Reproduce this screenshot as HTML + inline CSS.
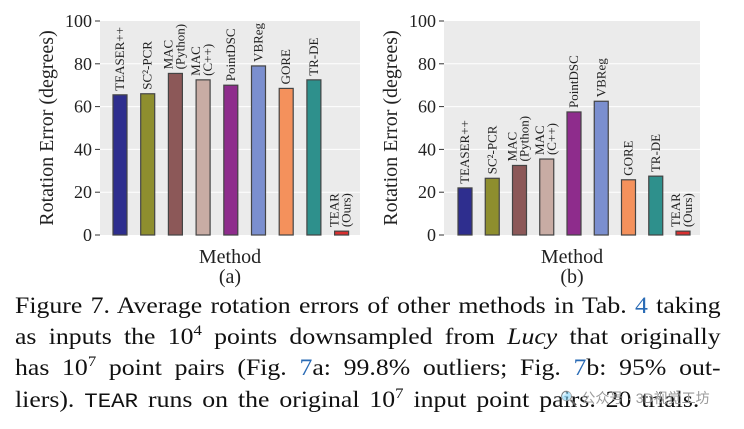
<!DOCTYPE html>
<html><head><meta charset="utf-8"><style>
body{margin:0;width:744px;height:429px;background:#fff;overflow:hidden;position:relative;font-family:"Liberation Serif","Times New Roman",serif}
svg{position:absolute;left:0;top:0;font-family:"Liberation Serif","Times New Roman",serif}
svg text{font-family:"Liberation Serif","Times New Roman",serif}
.cap{position:absolute;left:15px;width:630px;font-size:23px;color:#111;font-family:"Liberation Serif",serif;text-align:justify;text-align-last:justify;white-space:normal;transform:scaleX(1.12);transform-origin:0 0}
.blue{color:#2a6bb5}
sup{font-size:15px;vertical-align:9px;line-height:0}
.mono{font-family:"Liberation Mono",monospace;font-size:20px}
.wm{position:absolute;left:560px;top:388px;font-family:"Liberation Sans","Noto Sans CJK SC",sans-serif;font-size:14px;color:#9a9a9a}
</style></head><body>
<svg id="chart" width="744" height="290"></svg>
<div class="cap" style="top:293px">Figure 7. Average rotation errors of other methods in Tab. <span class="blue">4</span> taking</div>
<div class="cap" style="top:324px">as inputs the 10<sup>4</sup> points downsampled from <i>Lucy</i> that originally</div>
<div class="cap" style="top:355px">has 10<sup>7</sup> point pairs (Fig. <span class="blue">7</span>a: 99.8% outliers; Fig. <span class="blue">7</span>b: 95% out-</div>
<div class="cap" style="top:387px;width:611px">liers). <span class="mono">TEAR</span> runs on the original 10<sup>7</sup> input point pairs. 20 trials.</div>
<div class="wm">🔍 公众号 · 3D视觉工坊</div>
<script>
const categories=["TEASER++","SC²-PCR","MAC|(Python)","MAC|(C++)","PointDSC","VBReg","GORE","TR-DE","TEAR|(Ours)"];
const valuesA=[65.5,66,75.5,72.5,70,79,68.5,72.5,1.8];
const valuesB=[22,26.5,32.5,35.5,57.5,62.5,25.8,27.5,1.8];
const yTicks=[0,20,40,60,80,100];
const colors=["#2e2e8e","#8e8e2e","#8c5858","#c8aca4","#8e2c8c","#7b8fcf","#f4915c","#2e908c","#d83030"];
const NS="http://www.w3.org/2000/svg";
const svg=document.getElementById('chart');
function mk(t,a,p){const e=document.createElementNS(NS,t);for(const k in a)e.setAttribute(k,a[k]);(p||svg).appendChild(e);return e;}
function panel(vals,L,R,c0,step,label,name){
  const top=21,bot=235;
  const y=v=>bot-(v/100)*(bot-top);
  const x=i=>c0+i*step;
  const g=mk('g',{});
  
  
  const bg=mk('rect',{x:L,y:top,width:R-L,height:bot-top,fill:'#ebebeb'},g);
  
  
  yTicks.forEach(t=>{
    if(t>0&&t<100){mk('line',{x1:L,x2:R,y1:y(t),y2:y(t),stroke:'#fff','stroke-width':1},g);}
    mk('line',{x1:L-5,x2:L,y1:y(t),y2:y(t),stroke:'#333','stroke-width':1},g);
    const tx=mk('text',{x:L-8,y:y(t)+6,'text-anchor':'end','font-size':18,fill:'#222'},g);
    tx.textContent=t;
    
    
  });
  vals.forEach((v,i)=>{
    const b=mk('rect',{x:x(i)-7,y:y(v),width:14,height:bot-y(v),fill:colors[i],stroke:'#444','stroke-width':1.2},g);
    
    
    const lines=categories[i].split('|');
    lines.forEach((ln,k)=>{
      const lx=x(i)+ (lines.length===2?(k===0?-3:9):4);
      const t=mk('text',{transform:`translate(${lx},${y(v)-4}) rotate(-90)`,'font-size':13,fill:'#222'},g);
      t.textContent=ln;
      
      
    });
  });
  const yl=mk('text',{transform:`translate(${L-47},${(top+bot)/2}) rotate(-90)`,'text-anchor':'middle','font-size':20,fill:'#222'},g);
  yl.textContent='Rotation Error (degrees)';
  
  
  const xl=mk('text',{x:(L+R)/2,y:263,'text-anchor':'middle','font-size':20,fill:'#222'},g);
  xl.textContent='Method';
  
  
  const sl=mk('text',{x:(L+R)/2,y:283,'text-anchor':'middle','font-size':20,fill:'#222'},g);
  sl.textContent=label;
  
  
}
panel(valuesA,100,360,120,27.7,'(a)','chart-a');
panel(valuesB,444,700,465,27.25,'(b)','chart-b');
</script>
</body></html>
